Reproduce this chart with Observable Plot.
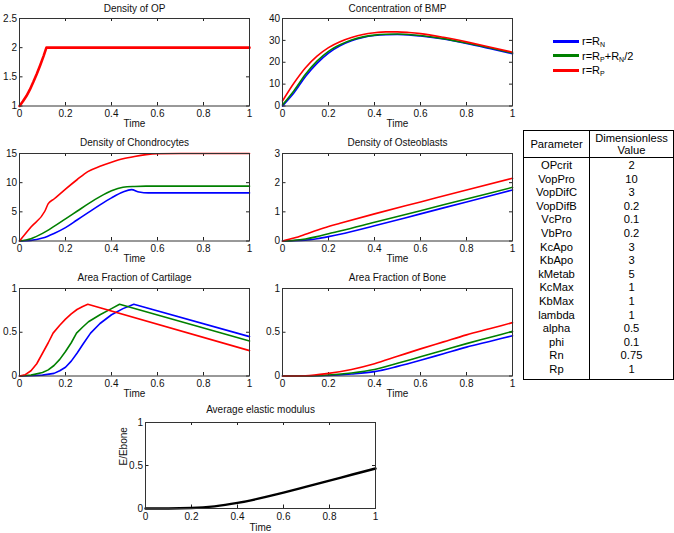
<!DOCTYPE html>
<html><head><meta charset="utf-8">
<script src="https://cdn.jsdelivr.net/npm/d3@7"></script>
<script src="https://cdn.jsdelivr.net/npm/@observablehq/plot@0.6"></script>
<style>
body{margin:0;background:#fff;font-family:"Liberation Sans",Arial,sans-serif;}
#root{position:relative;width:674px;height:533px;overflow:hidden;background:#fff;}
#root svg{position:absolute;overflow:visible;}
#legend{position:absolute;left:553px;top:34px;font-size:11px;color:#000;}
#legend .item{height:14.5px;display:flex;align-items:center;}
#legend .sw{width:26px;height:3px;margin-right:3px;}
#legend sub{font-size:7px;vertical-align:-2px;line-height:0;}
#params{position:absolute;left:523px;top:130px;border-collapse:collapse;font-size:11.2px;width:151px;}
#params td,#params th{padding:0;text-align:center;font-weight:normal;line-height:13.6px;}
#params th{border:1px solid #000;line-height:12px;height:26px;}
#params tbody td{border-left:1px solid #000;border-right:1px solid #000;}
#params tbody tr:last-child td{border-bottom:1px solid #000;padding-bottom:2px;}
#params tbody tr:first-child td{padding-top:1px;}
</style></head><body><div id="root"><div id="legend"></div><table id="params"><thead></thead><tbody></tbody></table></div>
<script>
// ---------- data ----------
const seriesNames = ["r=R_N", "r=R_P+R_N/2", "r=R_P"];
const seriesColors = ["#0000ff", "#008000", "#ff0000"];
const legendHtml = ["r=R<sub>N</sub>", "r=R<sub>P</sub>+R<sub>N</sub>/2", "r=R<sub>P</sub>"];

const xTicks = [0, 0.2, 0.4, 0.6, 0.8, 1];

// Density of OP
const opT = [0, 0.015, 0.03, 0.045, 0.06, 0.075, 0.09, 0.105, 0.117, 0.2, 0.4, 0.6, 0.8, 1];
const opRed = [1, 1.08, 1.17, 1.28, 1.41, 1.55, 1.7, 1.86, 2, 2, 2, 2, 2, 2];
const opTicks = [1, 1.5, 2, 2.5];

// Concentration of BMP
const bmpT = [0, 0.05, 0.1, 0.15, 0.2, 0.25, 0.3, 0.35, 0.4, 0.45, 0.5, 0.55, 0.6, 0.7, 0.8, 0.9, 1];
const bmpBlue = [0, 6, 13.5, 19.5, 24.2, 27.5, 29.8, 31.3, 32.2, 32.6, 32.7, 32.5, 32, 30.6, 28.6, 26.3, 23.9];
const bmpGreen = [0.5, 7, 14.5, 20.5, 25, 28, 30.2, 31.6, 32.4, 32.8, 32.9, 32.7, 32.2, 30.8, 28.8, 26.6, 24.2];
const bmpRed = [2.3, 10.5, 17.5, 22.8, 26.7, 29.4, 31.3, 32.7, 33.5, 33.9, 33.9, 33.6, 33.1, 31.4, 29.3, 27, 24.6];
const bmpTicks = [0, 10, 20, 30, 40];

// Density of Chondrocytes
const chBlueT = [0, 0.05, 0.1, 0.15, 0.2, 0.25, 0.3, 0.35, 0.4, 0.45, 0.487, 0.52, 0.56, 0.6, 1];
const chBlue = [0, 0.1, 0.5, 1.3, 2.3, 3.6, 4.9, 6.2, 7.4, 8.4, 8.8, 8.4, 8.25, 8.25, 8.25];
const chGreenT = [0, 0.05, 0.1, 0.15, 0.2, 0.25, 0.3, 0.35, 0.4, 0.45, 0.5, 0.55, 0.6, 1];
const chGreen = [0, 0.4, 1.3, 2.5, 3.8, 5.1, 6.4, 7.6, 8.6, 9.2, 9.35, 9.4, 9.4, 9.4];
const chRedT = [0, 0.05, 0.11, 0.125, 0.15, 0.2, 0.25, 0.297, 0.35, 0.4, 0.45, 0.5, 0.55, 0.6, 0.7, 1];
const chRed = [0, 2.4, 5.1, 6.4, 7.2, 8.9, 10.5, 11.9, 12.8, 13.5, 14.1, 14.5, 14.8, 14.95, 15, 15];
const chTicks = [0, 5, 10, 15];

// Density of Osteoblasts
const obT = [0, 0.05, 0.1, 0.15, 0.2, 0.25, 0.4, 0.6, 0.8, 1];
const obBlue = [0, 0.01, 0.03, 0.08, 0.15, 0.23, 0.52, 0.93, 1.34, 1.75];
const obGreen = [0, 0.02, 0.07, 0.15, 0.25, 0.34, 0.64, 1.04, 1.44, 1.84];
const obRed = [0, 0.1, 0.23, 0.37, 0.5, 0.61, 0.93, 1.34, 1.75, 2.15];
const obTicks = [0, 1, 2, 3];

// Area Fraction of Cartilage
const caBlueT = [0, 0.05, 0.1, 0.15, 0.175, 0.2, 0.225, 0.25, 0.275, 0.309, 0.35, 0.4, 0.45, 0.497, 1];
const caBlue = [0, 0.002, 0.01, 0.03, 0.06, 0.1, 0.17, 0.26, 0.36, 0.49, 0.6, 0.7, 0.77, 0.82, 0.45];
const caGreenT = [0, 0.05, 0.1, 0.125, 0.15, 0.175, 0.2, 0.225, 0.248, 0.275, 0.3, 0.35, 0.4, 0.435, 1];
const caGreen = [0, 0.01, 0.04, 0.07, 0.12, 0.19, 0.28, 0.38, 0.49, 0.56, 0.62, 0.7, 0.77, 0.82, 0.4];
const caRedT = [0, 0.025, 0.05, 0.075, 0.1, 0.125, 0.146, 0.175, 0.2, 0.225, 0.25, 0.275, 0.297, 1];
const caRed = [0, 0.015, 0.06, 0.14, 0.26, 0.38, 0.49, 0.58, 0.65, 0.71, 0.76, 0.795, 0.82, 0.29];
const fracTicks = [0, 0.5, 1];

// Area Fraction of Bone
const boT = [0, 0.1, 0.2, 0.3, 0.4, 0.5, 0.6, 0.7, 0.8, 0.9, 1];
const boBlue = [0, 0, 0.005, 0.022, 0.05, 0.11, 0.18, 0.255, 0.33, 0.395, 0.46];
const boGreen = [0, 0.001, 0.012, 0.035, 0.075, 0.145, 0.22, 0.295, 0.37, 0.44, 0.51];
const boRed = [0, 0.003, 0.03, 0.075, 0.14, 0.225, 0.31, 0.39, 0.47, 0.54, 0.61];

// Average elastic modulus
const emT = [0, 0.1, 0.2, 0.3, 0.4, 0.5, 0.6, 0.7, 0.8, 0.9, 1];
const emBlack = [0, 0, 0.005, 0.025, 0.065, 0.12, 0.185, 0.255, 0.325, 0.395, 0.465];

// Parameter table
const paramNames = ["OPcrit","VopPro","VopDifC","VopDifB","VcPro","VbPro","KcApo","KbApo","kMetab","KcMax","KbMax","lambda","alpha","phi","Rn","Rp"];
const paramValues = ["2","10","3","0.2","0.1","0.2","3","3","5","1","1","1","0.5","0.1","0.75","1"];

// ---------- drawing ----------
const FONT = "'Liberation Sans', Arial, sans-serif";
const root = document.getElementById("root");
const zip = (T, V, s) => T.map((t, i) => ({t, v: V[i], s}));

function panel({fx, fy, fw = 230, fh = 87.5, title, yDomain, yTicks, lines, ylabel, titleDy = -11, timeDy = 18, curve = "monotone-x"}) {
  const mL = 40, mR = 15, mT = 25, mB = 30;
  const data = lines.flatMap(l => zip(l.t, l.v, l.name));
  const tk = {stroke: "#222", strokeWidth: 1};
  const marks = [
    Plot.axisX(xTicks, {anchor: "bottom", tickSize: 0, tickPadding: 4, tickFormat: d3.format("~g"), label: null, fontSize: 10}),
    Plot.axisY(yTicks, {anchor: "left", tickSize: 0, tickPadding: 2.5, tickFormat: d3.format("~g"), label: null, fontSize: 10}),
    // inward tick marks on all four sides
    Plot.tickX(xTicks, {x: d => d, insetTop: fh - 3.5, ...tk}),
    Plot.tickX(xTicks, {x: d => d, insetBottom: fh - 3, ...tk}),
    Plot.tickY(yTicks, {y: d => d, insetRight: fw - 3.5, ...tk}),
    Plot.tickY(yTicks, {y: d => d, insetLeft: fw - 3, ...tk}),
    ...lines.map(l => Plot.line(data.filter(d => d.s === l.name), {x: "t", y: "v", stroke: l.color, strokeWidth: l.width || 1.6, curve: l.curve || curve})),
    Plot.frame({stroke: "#333", strokeWidth: 1}),
    Plot.text([title], {frameAnchor: "top", lineAnchor: "middle", dy: titleDy, fontSize: 10, fill: "#111"}),
    Plot.text(["Time"], {frameAnchor: "bottom", lineAnchor: "middle", dy: timeDy, fontSize: 10, fill: "#111"})
  ];
  if (ylabel) marks.push(Plot.text([ylabel], {frameAnchor: "left", dx: -22, rotate: -90, fontSize: 10, fill: "#111"}));
  const svg = Plot.plot({
    width: fw + mL + mR, height: fh + mT + mB,
    marginLeft: mL, marginRight: mR, marginTop: mT, marginBottom: mB,
    style: {fontFamily: FONT, fontSize: "10px", background: "transparent", color: "#111", overflow: "visible"},
    x: {domain: [0, 1]}, y: {domain: yDomain},
    marks
  });
  svg.style.left = (fx - mL) + "px";
  svg.style.top = (fy - mT) + "px";
  root.appendChild(svg);
}

const C = seriesColors, N = seriesNames;
panel({fx: 19, fy: 17.5, title: "Density of OP", yDomain: [1, 2.5], yTicks: opTicks, titleDy: -10, curve: "linear",
  lines: [{t: opT, v: opRed, name: N[2], color: C[2], width: 2.6}]});
panel({fx: 282, fy: 17.5, title: "Concentration of BMP", yDomain: [0, 40], yTicks: bmpTicks, titleDy: -10,
  lines: [{t: bmpT, v: bmpBlue, name: N[0], color: C[0]}, {t: bmpT, v: bmpGreen, name: N[1], color: C[1]}, {t: bmpT, v: bmpRed, name: N[2], color: C[2]}]});
panel({fx: 19, fy: 153, title: "Density of Chondrocytes", yDomain: [0, 15], yTicks: chTicks,
  lines: [{t: chBlueT, v: chBlue, name: N[0], color: C[0]}, {t: chGreenT, v: chGreen, name: N[1], color: C[1]}, {t: chRedT, v: chRed, name: N[2], color: C[2]}]});
panel({fx: 282, fy: 153, title: "Density of Osteoblasts", yDomain: [0, 3], yTicks: obTicks,
  lines: [{t: obT, v: obBlue, name: N[0], color: C[0]}, {t: obT, v: obGreen, name: N[1], color: C[1]}, {t: obT, v: obRed, name: N[2], color: C[2]}]});
panel({fx: 19, fy: 287.5, title: "Area Fraction of Cartilage", yDomain: [0, 1], yTicks: fracTicks, curve: "linear",
  lines: [{t: caBlueT, v: caBlue, name: N[0], color: C[0]}, {t: caGreenT, v: caGreen, name: N[1], color: C[1]}, {t: caRedT, v: caRed, name: N[2], color: C[2]}]});
panel({fx: 282, fy: 287.5, title: "Area Fraction of Bone", yDomain: [0, 1], yTicks: fracTicks,
  lines: [{t: boT, v: boBlue, name: N[0], color: C[0]}, {t: boT, v: boGreen, name: N[1], color: C[1]}, {t: boT, v: boRed, name: N[2], color: C[2]}]});
panel({fx: 145, fy: 422, fh: 86, title: "Average elastic modulus", yDomain: [0, 1], yTicks: fracTicks, ylabel: "E/Ebone", titleDy: -13, timeDy: 19,
  lines: [{t: emT, v: emBlack, name: "E", color: "#000", width: 2.4}]});

// legend
const legend = document.getElementById("legend");
seriesColors.forEach((c, i) => {
  const it = document.createElement("div");
  it.className = "item";
  it.innerHTML = `<span class="sw" style="background:${c}"></span><span>${legendHtml[i]}</span>`;
  legend.appendChild(it);
});

// table
const table = document.getElementById("params");
table.querySelector("thead").innerHTML = `<tr><th style="width:65px">Parameter</th><th>Dimensionless<br>Value</th></tr>`;
const tb = table.querySelector("tbody");
paramNames.forEach((p, i) => {
  const tr = document.createElement("tr");
  tr.innerHTML = `<td>${p}</td><td>${paramValues[i]}</td>`;
  tb.appendChild(tr);
});
</script></body></html>
